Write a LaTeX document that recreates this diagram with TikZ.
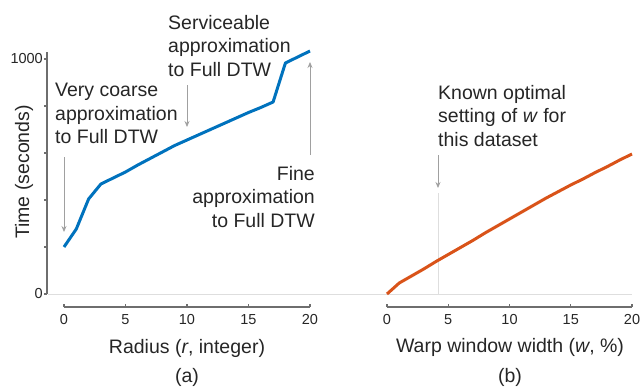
\documentclass[tikz,border=0pt]{standalone}
\usepackage{fontspec}
\setmainfont{Liberation Sans}
\usetikzlibrary{arrows.meta}

\definecolor{lineblue}{RGB}{0,114,189}
\definecolor{lineorange}{RGB}{217,83,25}
\definecolor{axisgray}{RGB}{110,110,110}
\definecolor{guidegray}{RGB}{222,222,222}
\definecolor{notegray}{RGB}{160,160,160}
\definecolor{textgray}{RGB}{38,38,38}

\tikzset{
  note/.style={inner sep=0pt, text=textgray, font=\fontsize{19.5}{23.5}\selectfont},
  ticklabel/.style={inner sep=0pt, text=textgray, font=\fontsize{14.5}{17}\selectfont},
  pointer/.style={draw=notegray, line width=0.8pt, -{Stealth[length=6pt,width=5pt]}},
  axisline/.style={draw=axisgray, line width=1.4pt},
  curve/.style={line width=3pt, line join=round}
}

\begin{document}
\begin{tikzpicture}[x=1pt, y=-1pt]
  \useasboundingbox (0,0) rectangle (641,389);

  \draw[guidegray, line width=1pt] (48,294) -- (632,294);

  % (a)
  \draw[axisline] (47,52) -- (47,294);
  \foreach \y in {59,106,153,200,247,294} {
    \draw[axisline] (44,\y) -- (47,\y);
  }
  \node[ticklabel, anchor=east] (ytop) at (43,59) {1000};
  \node[ticklabel, anchor=east] (yzero) at (43,294) {0};
  \node[note, rotate=90] (ylabel) at (24,172) {Time (seconds)};

  \draw[axisline] (64,307) -- (310,307);
  \foreach \x/\r in {64/0, 125.5/5, 187/10, 248.5/15, 310/20} {
    \draw[axisline] (\x,307) -- (\x,303.5);
    \node[ticklabel] (ra\r) at (\x,320) {\r};
  }
  \node[note] (xlabela) at (187,348) {Radius (\textit{r}, integer)};
  \node[note] (capa) at (187,377) {(a)};

  \draw[curve, lineblue] (64,247)
    \foreach \r/\t in {1/229, 2/199, 3/184, 4/178, 5/172, 6/165, 7/158.5,
      8/152, 9/145.5, 10/140, 11/134.5, 12/129, 13/123.5, 14/118, 15/112.5,
      16/107.5, 17/102, 18/63, 19/57, 20/51} {
      -- ({64+12.3*\r},\t)
    };

  \node[note, anchor=north west, align=left] (coarse) at (55,83)
    {Very coarse\\approximation\\to Full DTW};
  \node[note, anchor=north west, align=left] (service) at (168,15)
    {Serviceable\\approximation\\to Full DTW};
  \node[note, anchor=north east, align=right] (fine) at (315,166)
    {Fine\\approximation\\to Full DTW};

  \coordinate (coarse-tail) at (64,157);
  \coordinate (coarse-head) at (64,232);
  \coordinate (service-tail) at (187,85);
  \coordinate (service-head) at (187,127);
  \coordinate (fine-tail) at (310,155);
  \coordinate (fine-head) at (310,62);
  \draw[pointer] (coarse-tail) -- (coarse-head);
  \draw[pointer] (service-tail) -- (service-head);
  \draw[pointer] (fine-tail) -- (fine-head);

  % (b)
  \draw[axisline] (387,307) -- (632,307);
  \foreach \x/\w in {387/0, 448.25/5, 509.5/10, 570.75/15, 632/20} {
    \draw[axisline] (\x,307) -- (\x,303.5);
    \node[ticklabel] (wb\w) at (\x,320) {\w};
  }
  \node[note] (xlabelb) at (510,347) {Warp window width (\textit{w}, \%)};
  \node[note] (capb) at (510,377) {(b)};

  \coordinate (best-top) at (438,193);
  \coordinate (best-foot) at (438,294);
  \draw[guidegray, line width=1pt] (best-top) -- (best-foot);

  \draw[curve, lineorange] (387,294)
    \foreach \w/\t in {1/283, 2/276, 3/269, 4/261.5, 5/254.5, 6/247.5,
      7/240.5, 8/233, 9/226, 10/219, 11/212, 12/205, 13/198, 14/191.5,
      15/185, 16/179, 17/172.5, 18/166.5, 19/160, 20/154} {
      -- ({387+12.25*\w},\t)
    };

  \node[note, anchor=north west, align=left] (known) at (438,85)
    {Known optimal\\setting of \textit{w} for\\this dataset};
  \coordinate (known-tail) at (438,155);
  \coordinate (known-head) at (438,188);
  \draw[pointer] (known-tail) -- (known-head);
\end{tikzpicture}
\end{document}
